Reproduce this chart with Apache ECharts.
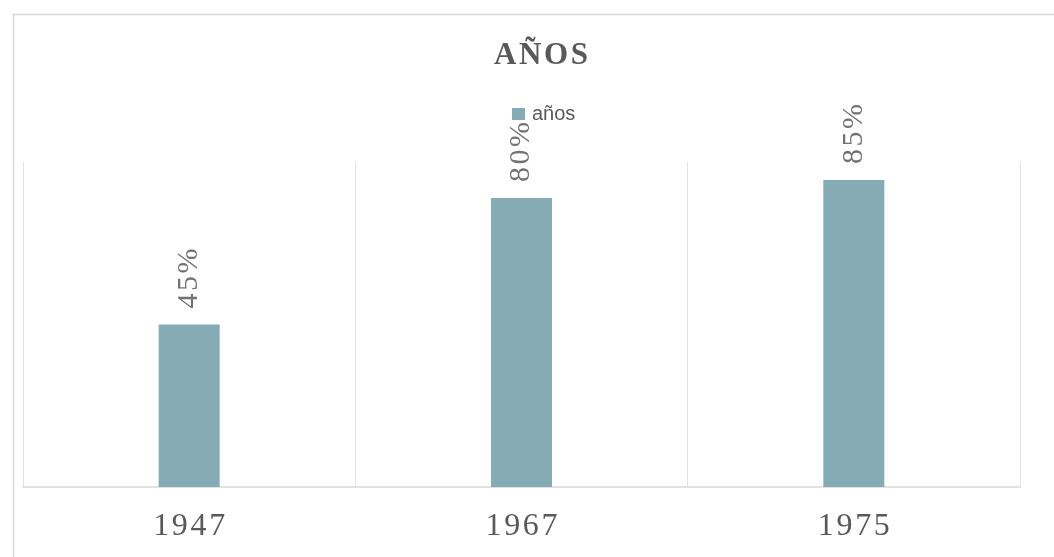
<!DOCTYPE html>
<html>
<head>
<meta charset="utf-8">
<script src="https://cdn.jsdelivr.net/npm/echarts@6/dist/echarts.min.js"></script>
<style>
  html, body { margin: 0; padding: 0; background: #fff; }
  #chart { width: 1054px; height: 557px; }
</style>
</head>
<body>
<div id="chart"></div>
<script>
// datos del gráfico
const categories = ['1947', '1967', '1975'];
const seriesName = 'años';
const values = [0.45, 0.80, 0.85];

const spaced = (s, sep) => s.split('').join(sep || '\u200a');

const chart = echarts.init(document.getElementById('chart'));

const option = {
  animation: false,
  title: {
    text: spaced('AÑOS'),
    left: 489,
    top: 35,
    textStyle: {
      fontFamily: 'Liberation Serif',
      fontWeight: 'bold',
      fontSize: 31,
      color: '#595959'
    }
  },
  legend: {
    data: [{ name: seriesName, icon: 'rect' }],
    top: 104,
    left: 512,
    padding: 0,
    itemWidth: 13,
    itemHeight: 12,
    itemGap: 4,
    textStyle: {
      fontFamily: 'Liberation Sans',
      fontSize: 20,
      color: '#595959',
      padding: [0, 0, 0, 2]
    }
  },
  grid: {
    left: 23,
    right: 34,
    top: 162,
    bottom: 70
  },
  xAxis: {
    type: 'category',
    data: categories,
    axisLine: { show: true, lineStyle: { color: '#d9d9d9', width: 1.5 } },
    axisTick: { show: false },
    splitLine: { show: true, lineStyle: { color: '#e2e2e2', width: 1 } },
    axisLabel: {
      margin: 24,
      fontFamily: 'Liberation Serif',
      fontSize: 32,
      color: '#595959',
      formatter: v => spaced(v)
    }
  },
  yAxis: {
    type: 'value',
    min: 0,
    max: 0.9,
    show: false,
    splitLine: { show: false }
  },
  series: [
    {
      name: seriesName,
      type: 'bar',
      data: values,
      barWidth: 61,
      itemStyle: { color: '#85abb5' },
      label: {
        show: true,
        position: 'top',
        rotate: 90,
        align: 'left',
        verticalAlign: 'middle',
        distance: 16,
        fontFamily: 'Liberation Serif',
        fontSize: 30,
        color: '#727272',
        formatter: p => spaced(Math.round(p.value * 100) + '%')
      }
    }
  ],
  graphic: [
    {
      type: 'rect',
      left: 11,
      top: 12,
      shape: { width: 1100, height: 600 },
      style: { fill: 'none', stroke: '#d9d9d9', lineWidth: 1.5 },
      silent: true
    }
  ]
};

chart.setOption(option);
</script>
</body>
</html>
